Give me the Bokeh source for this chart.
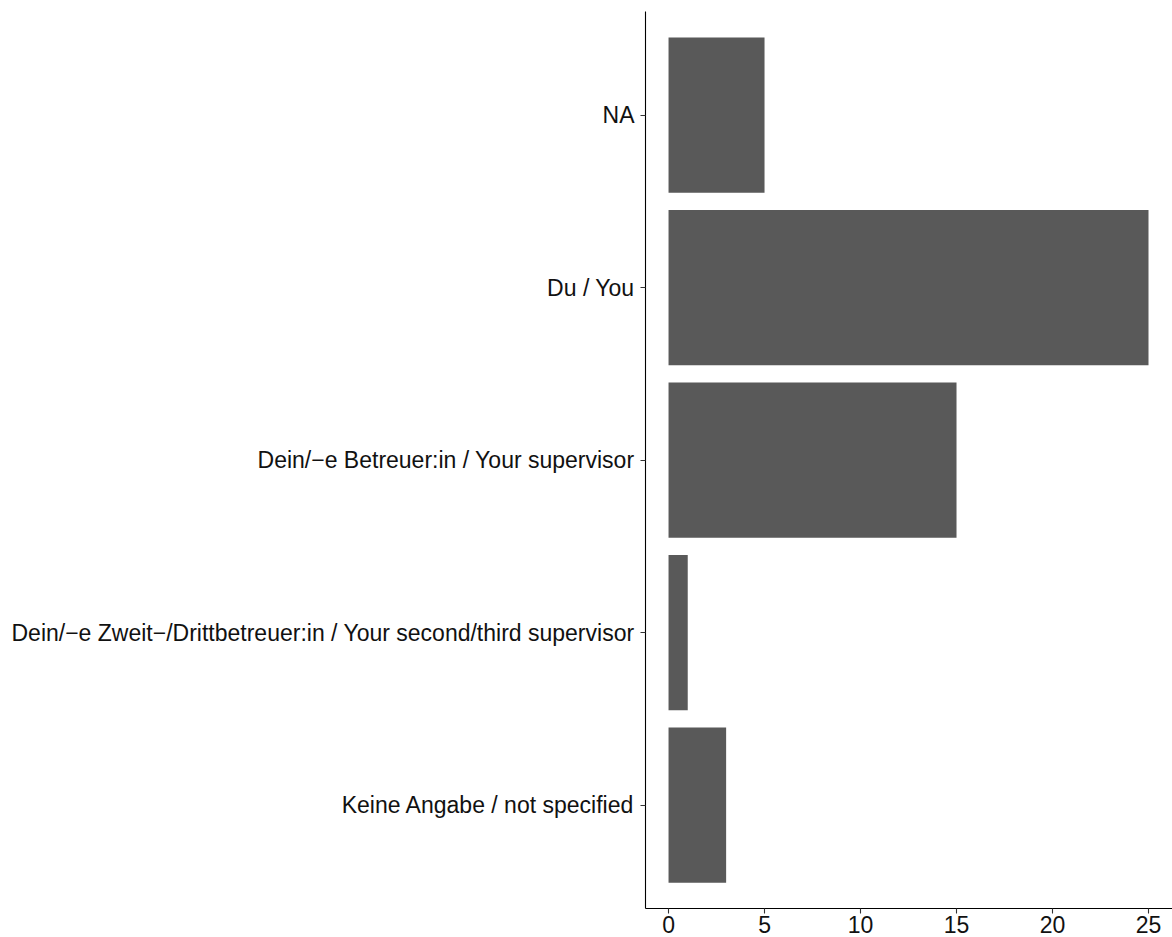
from bokeh.plotting import figure
from bokeh.models import Range1d, FixedTicker
from bokeh.embed import file_html
from bokeh.resources import INLINE

categories = [
    "Keine Angabe / not specified",
    "Dein/\u2212e Zweit\u2212/Drittbetreuer:in / Your second/third supervisor",
    "Dein/\u2212e Betreuer:in / Your supervisor",
    "Du / You",
    "NA",
]
counts = [3, 1, 15, 25, 5]
x_ticks = [0, 5, 10, 15, 20, 25]

positions = list(range(1, len(categories) + 1))

p = figure(width=1172, height=937, output_backend="svg", toolbar_location=None,
           x_range=Range1d(-1.2, 26.25), y_range=Range1d(0.4, len(categories) + 0.6),
           min_border_left=645, min_border_right=0, min_border_top=11, min_border_bottom=29)

p.hbar(y=positions, right=counts, left=0, height=0.9, color="#595959", line_color=None)

p.grid.visible = False
p.outline_line_color = None
p.background_fill_color = "white"
p.border_fill_color = "white"

p.yaxis.ticker = FixedTicker(ticks=positions)
p.yaxis.major_label_overrides = {pos: cat for pos, cat in zip(positions, categories)}
p.xaxis.ticker = FixedTicker(ticks=x_ticks)

for ax in (p.xaxis[0], p.yaxis[0]):
    ax.axis_line_color = "black"
    ax.axis_line_width = 1.1
    ax.major_tick_line_color = "#333333"
    ax.major_tick_line_width = 1.1
    ax.major_tick_out = 5
    ax.major_tick_in = 0
    ax.minor_tick_line_color = None
    ax.major_label_text_font = "Liberation Sans"
    ax.major_label_text_font_size = "23px"
    ax.major_label_text_color = "#111111"

p.xaxis.major_label_standoff = 2
p.yaxis.major_label_standoff = 6

open("out.html", "w").write(file_html(p, INLINE))
